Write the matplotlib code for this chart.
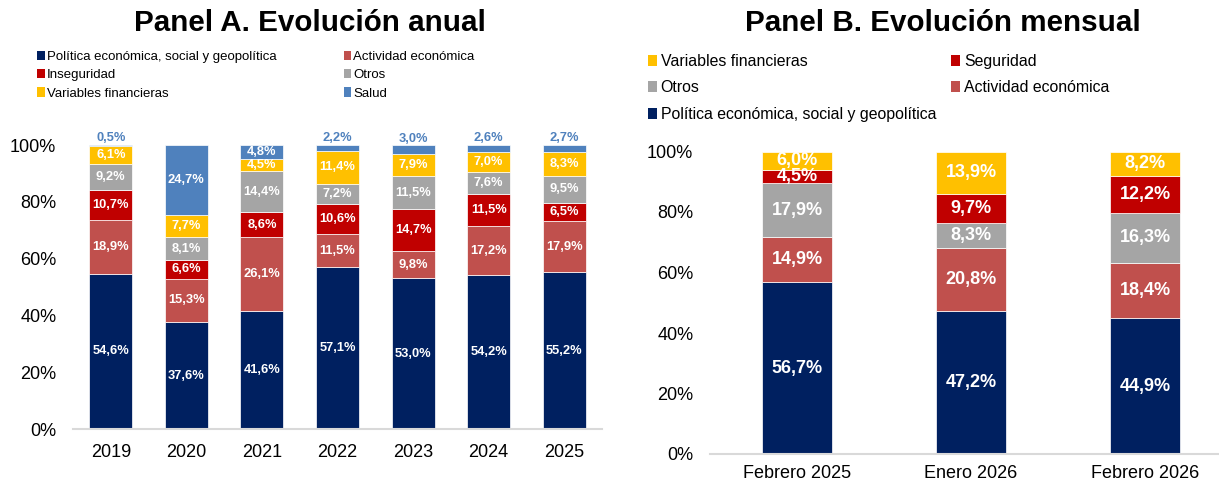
import matplotlib
matplotlib.use("Agg")
import matplotlib.pyplot as plt
from matplotlib.patches import Patch
import numpy as np

plt.rcParams['font.family'] = ['Liberation Sans', 'DejaVu Sans']

# ---------------- Data ----------------
years = ["2019", "2020", "2021", "2022", "2023", "2024", "2025"]
politica_a = [54.6, 37.6, 41.6, 57.1, 53.0, 54.2, 55.2]
actividad_a = [18.9, 15.3, 26.1, 11.5, 9.8, 17.2, 17.9]
inseguridad_a = [10.7, 6.6, 8.6, 10.6, 14.7, 11.5, 6.5]
otros_a = [9.2, 8.1, 14.4, 7.2, 11.5, 7.6, 9.5]
variables_a = [6.1, 7.7, 4.5, 11.4, 7.9, 7.0, 8.3]
salud_a = [0.5, 24.7, 4.8, 2.2, 3.0, 2.6, 2.7]

months = ["Febrero 2025", "Enero 2026", "Febrero 2026"]
politica_b = [56.7, 47.2, 44.9]
actividad_b = [14.9, 20.8, 18.4]
otros_b = [17.9, 8.3, 16.3]
seguridad_b = [4.5, 9.7, 12.2]
variables_b = [6.0, 13.9, 8.2]

# ---------------- Style ----------------
C_POL = "#002060"
C_ACT = "#C0504D"
C_INS = "#C00000"
C_OTR = "#A5A5A5"
C_VAR = "#FFC000"
C_SAL = "#4F81BD"

W, H = 1219, 484
fig = plt.figure(figsize=(W / 100, H / 100), dpi=100)


def fmt(v):
    return f"{v:.1f}".replace(".", ",") + "%"


def style_axis(ax, tick_fs, xpad):
    for s in ["top", "right", "left"]:
        ax.spines[s].set_visible(False)
    ax.spines["bottom"].set_color("#D9D9D9")
    ax.spines["bottom"].set_linewidth(1.5)
    ax.set_ylim(0, 100)
    ax.set_yticks([0, 20, 40, 60, 80, 100])
    ax.set_yticklabels([f"{t}%" for t in [0, 20, 40, 60, 80, 100]])
    ax.tick_params(axis="both", length=0, labelsize=tick_fs, colors="black")
    ax.tick_params(axis="y", pad=12)
    ax.tick_params(axis="x", pad=xpad)


# ---------------- Panel A ----------------
axA = fig.add_axes([73 / W, 1 - 429 / H, 529 / W, 284 / H])
xa = np.arange(len(years))
series_a = [
    ("Política económica, social y geopolítica", politica_a, C_POL),
    ("Actividad económica", actividad_a, C_ACT),
    ("Inseguridad", inseguridad_a, C_INS),
    ("Otros", otros_a, C_OTR),
    ("Variables financieras", variables_a, C_VAR),
    ("Salud", salud_a, C_SAL),
]
bottom = np.zeros(len(years))
for name, vals, col in series_a:
    vals = np.array(vals)
    axA.bar(xa, vals, 0.57, bottom=bottom, color=col, edgecolor="white", linewidth=0.5)
    for i, v in enumerate(vals):
        if name == "Salud" and v < 4:
            axA.annotate(fmt(v), (xa[i], bottom[i] + v), xytext=(0, 0.5),
                         textcoords="offset points", ha="center", va="bottom",
                         color=C_SAL, fontsize=9.3, fontweight="bold",
                         annotation_clip=False)
        else:
            axA.text(xa[i], bottom[i] + v / 2, fmt(v), ha="center", va="center",
                     color="white", fontsize=9.3, fontweight="bold")
    bottom += vals
axA.set_xlim(-0.5, len(years) - 0.5)
axA.set_xticks(xa)
axA.set_xticklabels(years)
style_axis(axA, 13, 11)

handles_a = [Patch(facecolor=c, edgecolor="none") for _, _, c in series_a]
labels_a = [n for n, _, _ in series_a]
order_a = [0, 2, 4, 1, 3, 5]
fig.legend([handles_a[i] for i in order_a], [labels_a[i] for i in order_a],
           loc="upper left", bbox_to_anchor=(37 / W, 1 - 51 / H), ncol=2,
           frameon=False, fontsize=9.5, handlelength=0.58, handleheight=0.7,
           handletextpad=0.15, columnspacing=5.1, labelspacing=0.45,
           borderpad=0, borderaxespad=0)

fig.text(310 / W, 1 - 23 / H, "Panel A. Evolución anual", ha="center", va="center",
         fontsize=21.3, fontweight="bold")

# ---------------- Panel B ----------------
axB = fig.add_axes([710 / W, 1 - 454 / H, 522 / W, 302.5 / H])
xb = np.arange(len(months))
series_b = [
    ("Política económica, social y geopolítica", politica_b, C_POL),
    ("Actividad económica", actividad_b, C_ACT),
    ("Otros", otros_b, C_OTR),
    ("Seguridad", seguridad_b, C_INS),
    ("Variables financieras", variables_b, C_VAR),
]
bottom = np.zeros(len(months))
for name, vals, col in series_b:
    vals = np.array(vals)
    axB.bar(xb, vals, 0.40, bottom=bottom, color=col, edgecolor="white", linewidth=0.5)
    for i, v in enumerate(vals):
        axB.text(xb[i], bottom[i] + v / 2, fmt(v), ha="center", va="center",
                 color="white", fontsize=13, fontweight="bold")
    bottom += vals
axB.set_xlim(-0.5, len(months) - 0.5)
axB.set_xticks(xb)
axB.set_xticklabels(months)
style_axis(axB, 13, 8)

handles_b = [Patch(facecolor=c, edgecolor="none") for _, _, c in series_b]
labels_b = [n for n, _, _ in series_b]
order_b = [4, 2, 0, 3, 1]
fig.legend([handles_b[i] for i in order_b], [labels_b[i] for i in order_b],
           loc="upper left", bbox_to_anchor=(648 / W, 1 - 54 / H), ncol=2,
           frameon=False, fontsize=11.4, handlelength=0.55, handleheight=0.7,
           handletextpad=0.25, columnspacing=0.95, labelspacing=0.72,
           borderpad=0, borderaxespad=0)

fig.text(943 / W, 1 - 23 / H, "Panel B. Evolución mensual", ha="center", va="center",
         fontsize=21.3, fontweight="bold")

fig.savefig("out.png", dpi=100)
